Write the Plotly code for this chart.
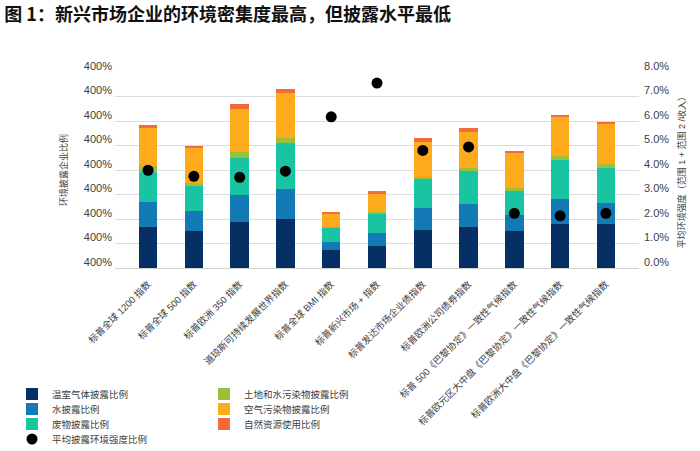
import plotly.graph_objects as go

categories = [
    "标普全球 1200 指数",
    "标普全球 500 指数",
    "标普欧洲 350 指数",
    "道琼斯可持续发展世界指数",
    "标普全球 BMI 指数",
    "标普新兴市场 + 指数",
    "标普发达市场企业债指数",
    "标普欧洲公司债券指数",
    "标普 500《巴黎协定》一致性气候指数",
    "标普欧元区大中盘《巴黎协定》一致性气候指数",
    "标普欧洲大中盘《巴黎协定》一致性气候指数",
]

ghg = [84, 76, 93, 99, 36, 44, 78, 84, 76, 89, 89]
water = [50, 40, 55, 62, 17, 28, 44, 46, 32, 51, 44]
waste = [62, 52, 77, 94, 29, 40, 59, 67, 51, 80, 72]
land_water = [13, 5, 12, 11, 2, 2, 5, 7, 4, 8, 8]
air = [76, 71, 88, 92, 27, 38, 72, 74, 72, 82, 82]
resources = [6, 6, 10, 8, 4, 5, 8, 8, 3, 3, 2]

intensity = [3.99, 3.74, 3.70, 3.95, 6.17, 7.55, 4.80, 4.94, 2.23, 2.13, 2.23]

left_tickvals = [0, 50, 100, 150, 200, 250, 300, 350, 400]
left_ticktext = ["400%"] * 9

# (name, values, colour, legend row)
series = [
    ("温室气体披露比例", ghg, "#062f63", "legend"),
    ("水披露比例", water, "#137ab5", "legend2"),
    ("废物披露比例", waste, "#18c4a2", "legend3"),
    ("土地和水污染物披露比例", land_water, "#9dbf3b", "legend"),
    ("空气污染物披露比例", air, "#fdaa1c", "legend2"),
    ("自然资源使用比例", resources, "#f26a3a", "legend3"),
]

FONT = "Liberation Sans, Arial, Noto Sans CJK SC, sans-serif"
W, H = 700, 451

fig = go.Figure()
for name, vals, color, lg in series:
    fig.add_trace(go.Bar(
        x=categories, y=vals, name=name,
        marker=dict(color=color, line=dict(width=0)),
        legend=lg, yaxis="y",
    ))

fig.add_trace(go.Scatter(
    x=categories, y=intensity, name="平均披露环境强度比例",
    mode="markers", marker=dict(color="black", size=11),
    yaxis="y2", legend="legend4",
))


def row_legend(py):
    return dict(
        orientation="h", traceorder="normal",
        entrywidth=147, entrywidthmode="pixels",
        xref="container", x=12 / W, xanchor="left",
        yref="container", y=1 - py / H, yanchor="middle",
        font=dict(size=9.5, color="#404040"), bgcolor="rgba(0,0,0,0)",
        itemwidth=30,
    )


fig.update_layout(
    width=W, height=H,
    paper_bgcolor="white", plot_bgcolor="white",
    barmode="stack", bargap=0.595,
    margin=dict(l=115, r=61, t=72, b=183, autoexpand=False),
    font=dict(family=FONT, size=10, color="#404040"),
    title=dict(
        text="<b>图 1：新兴市场企业的环境密集度最高，但披露水平最低</b>",
        font=dict(family="Noto Sans CJK SC, sans-serif", size=18, color="#111111"),
        xref="container", x=0.006, xanchor="left",
        yref="container", y=1 - 15 / H, yanchor="middle",
    ),
    xaxis=dict(
        tickangle=-45, showgrid=False, showline=True, linecolor="#d0d0d0",
        linewidth=1, ticks="", tickfont=dict(size=9.5, color="#404040"),
        ticklabelstandoff=6, automargin=False,
    ),
    yaxis=dict(
        range=[0, 400], tickvals=left_tickvals, ticktext=left_ticktext,
        showgrid=True, gridcolor="#dcdcdc", gridwidth=1, zeroline=False,
        ticks="", tickfont=dict(size=11, color="#404040"),
        ticklabelshift=-6, ticklabelstandoff=2, automargin=False,
        title=dict(text="环境披露企业比例", font=dict(size=9, color="#404040"), standoff=14),
    ),
    yaxis2=dict(
        range=[0, 8], overlaying="y", side="right", dtick=1,
        tickformat=".1f", ticksuffix="%", showgrid=False, zeroline=False,
        ticks="", tickfont=dict(size=11, color="#404040"),
        ticklabelshift=-6, ticklabelstandoff=4, automargin=False,
        title=dict(text="平均环境强度（范围 1 + 范围 2 /收入）",
                   font=dict(size=9, color="#404040"), standoff=10),
    ),
    legend=row_legend(394),
    legend2=row_legend(409),
    legend3=row_legend(424),
    legend4=row_legend(439),
    showlegend=True,
)

fig.write_html(
    "out.html",
    config={"displayModeBar": False},
    post_script="document.body.style.margin='0';document.body.style.padding='0';",
)
